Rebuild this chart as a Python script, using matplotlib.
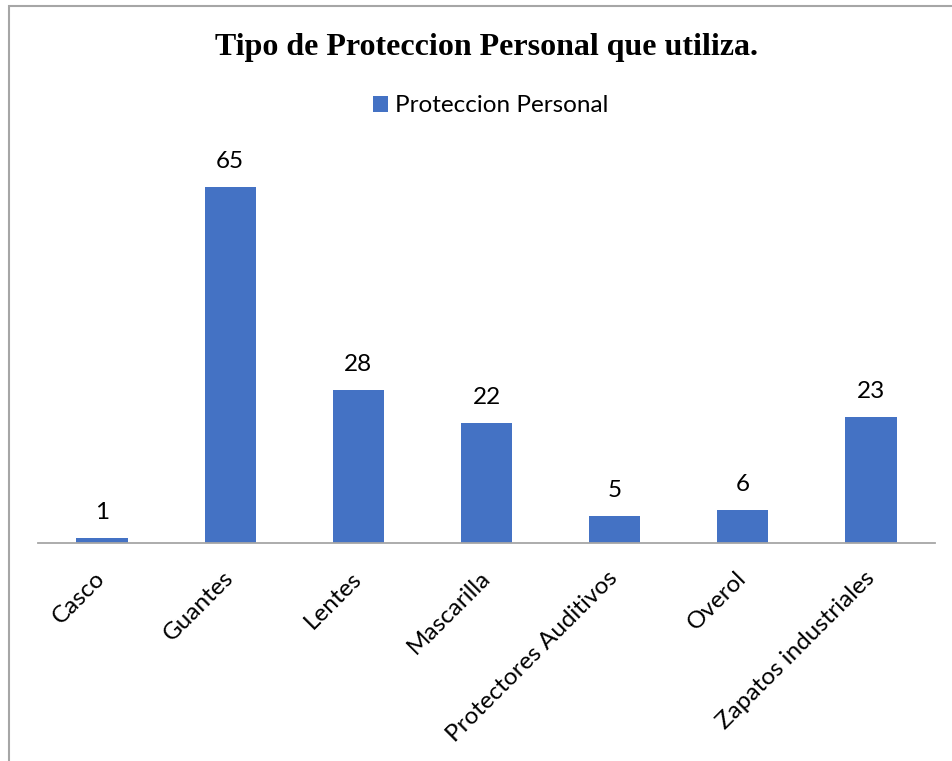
import matplotlib
matplotlib.use("Agg")
import matplotlib.pyplot as plt
from matplotlib.patches import Rectangle

categories = ["Casco", "Guantes", "Lentes", "Mascarilla",
              "Protectores Auditivos", "Overol", "Zapatos industriales"]
values = [1, 65, 28, 22, 5, 6, 23]
series_name = "Proteccion Personal"
title = "Tipo de Proteccion Personal que utiliza."

W, H = 952, 761
fig = plt.figure(figsize=(W / 100, H / 100), dpi=100)

# chart area border (left and top edges visible)
fig.add_artist(Rectangle((9 / W, -0.05), 1.2, (H - 6) / H + 0.05,
                         transform=fig.transFigure, fill=False,
                         edgecolor="#A6A6A6", linewidth=1.5))

left, right = 38 / W, 935 / W
bottom = 1 - 543 / H
top = 1 - (543 - 70 * 5.477) / H
ax = fig.add_axes([left, bottom, right - left, top - bottom])

x = list(range(len(categories)))
bars = ax.bar(x, values, width=0.4, color="#4472C4", label=series_name)
ax.set_xlim(-0.5, len(categories) - 0.5)
ax.set_ylim(0, 70)

for xi, v in zip(x, values):
    ax.annotate(str(v), (xi, v), xytext=(0, 13.5), textcoords="offset points",
                ha="center", va="baseline", fontsize=17.5, family="Lato",
                color="#000000")

for s in ["top", "right", "left"]:
    ax.spines[s].set_visible(False)
ax.spines["bottom"].set_color("#A6A6A6")
ax.spines["bottom"].set_linewidth(1.3)
ax.set_yticks([])
ax.set_xticks(x)
ax.set_xticklabels(categories, rotation=45, ha="right", va="center",
                   rotation_mode="anchor", fontsize=17.5, family="Lato")
ax.tick_params(axis="x", length=0, pad=23)

fig.text(487 / W, 1 - 48 / H, title, ha="center", va="center",
         fontsize=23, fontweight="bold", family="Liberation Serif")

fig.legend(handles=[bars], labels=[series_name], loc="center",
           bbox_to_anchor=(491 / W, 1 - 106 / H), frameon=False,
           prop={"family": "Lato", "size": 17.5}, handlelength=0.6,
           handleheight=0.6, handletextpad=0.3)

fig.savefig("out.png", dpi=100)
